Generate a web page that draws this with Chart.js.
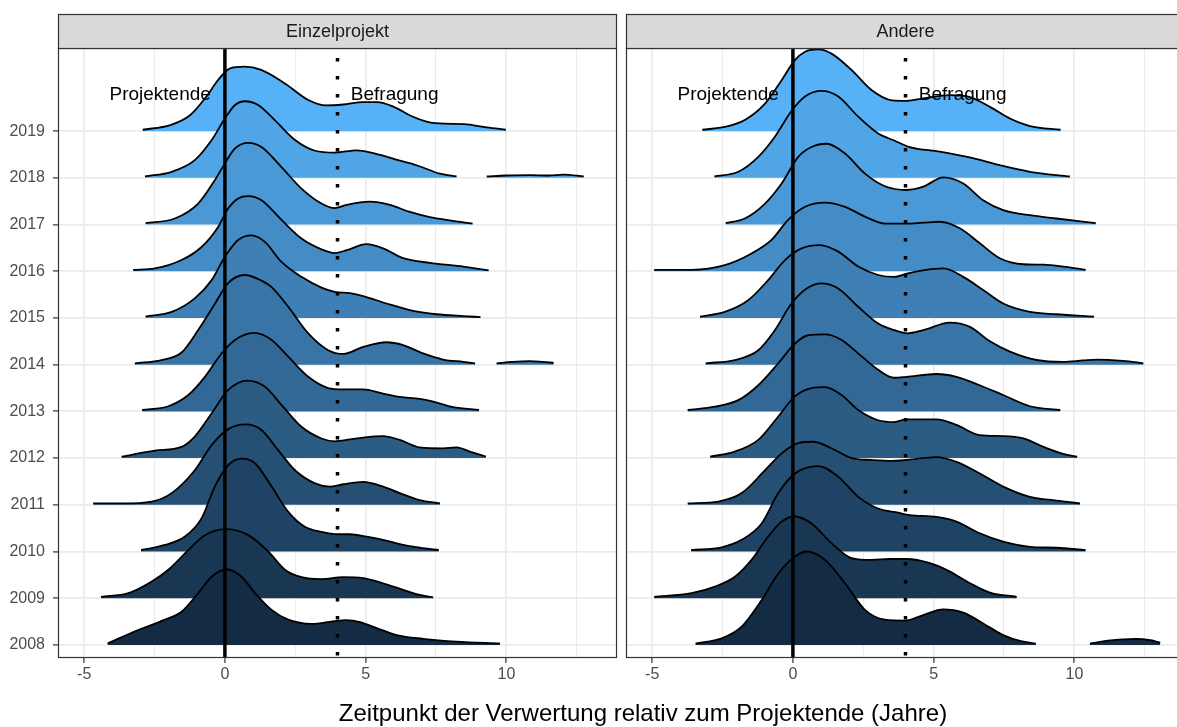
<!DOCTYPE html>
<html>
<head>
<meta charset="utf-8">
<script src="https://cdn.jsdelivr.net/npm/chart.js@4.4.1/dist/chart.umd.min.js"></script>
<style>
  html, body { margin: 0; padding: 0; background: #fff; overflow: hidden; }
  #wrap { position: relative; width: 1177px; height: 727px; overflow: hidden; }
  canvas { position: absolute; top: 0; }
  #xTitle { position: absolute; left: 243px; width: 800px; top: 699px; line-height: 28px; text-align: center;
            font-family: "Liberation Sans", Arial, sans-serif; font-size: 24px; color: #000; }
</style>
</head>
<body>
<div id="wrap">
  <canvas id="leftChart" width="620" height="727" style="left:0"></canvas>
  <canvas id="rightChart" width="565" height="727" style="left:620px"></canvas>
  <div id="xTitle">Zeitpunkt der Verwertung relativ zum Projektende (Jahre)</div>
</div>
<script>
// 축 설정
const years = [2008, 2009, 2010, 2011, 2012, 2013, 2014, 2015, 2016, 2017, 2018, 2019];
const xTicks = [-5, -2.5, 0, 2.5, 5, 7.5, 10, 12.5];
const xRange = [-5.93, 13.93];
const yRange = [2007.72, 2020.78];
const panelTitles = ['Einzelprojekt', 'Andere'];

// 기준선 (Projektende = 0, Befragung = 4)
const refLines = [0, 4];
const noteLabels = ['Projektende', 'Befragung'];
const noteX = [-2.3, 6.03];
const noteY = 2019.77;

// Einzelprojekt: [x, Dichte-Höhe]
const ez2008 = [[-4.17,0.03],[-3.08,0.32],[-2.13,0.54],[-1.54,0.71],[-0.95,1.11],[-0.47,1.46],[0.06,1.62],[0.59,1.46],[1.07,1.11],[1.66,0.75],[2.25,0.54],[3.08,0.45],[3.9,0.51],[4.3,0.53],[4.8,0.49],[5.39,0.36],[6.1,0.21],[7.04,0.13],[8.23,0.07],[9.77,0.03]];
const ez2009 = [[-4.4,0.03],[-3.43,0.11],[-2.6,0.36],[-2.01,0.61],[-1.3,1.03],[-0.71,1.35],[0.06,1.48],[0.83,1.35],[1.54,1.0],[2.13,0.61],[2.72,0.45],[3.43,0.41],[4.2,0.45],[4.91,0.43],[5.62,0.32],[6.33,0.18],[6.92,0.07],[7.4,0.02]];
const ez2010 = [[-2.98,0.03],[-2.13,0.14],[-1.42,0.32],[-0.83,0.71],[-0.36,1.39],[0.12,1.85],[0.59,1.99],[1.07,1.89],[1.66,1.39],[2.25,0.85],[2.84,0.53],[3.43,0.42],[4.0,0.37],[4.44,0.37],[5.03,0.32],[5.62,0.25],[6.33,0.14],[7.04,0.07],[7.6,0.03]];
const ez2011 = [[-4.68,0.03],[-3.67,0.03],[-2.6,0.07],[-1.89,0.25],[-1.07,0.74],[-0.47,1.28],[0.12,1.62],[0.73,1.72],[1.3,1.6],[1.89,1.17],[2.49,0.74],[3.2,0.46],[3.73,0.39],[4.2,0.44],[4.91,0.49],[5.62,0.39],[6.21,0.25],[6.92,0.1],[7.64,0.03]];
const ez2012 = [[-3.67,0.03],[-2.49,0.16],[-1.54,0.24],[-1.07,0.46],[-0.47,0.96],[0.12,1.46],[0.8,1.66],[1.42,1.53],[2.01,1.14],[2.72,0.67],[3.43,0.42],[3.9,0.36],[4.44,0.4],[4.91,0.44],[5.62,0.47],[6.21,0.39],[6.92,0.23],[7.75,0.21],[8.23,0.23],[8.7,0.14],[9.27,0.03]];
const ez2013 = [[-2.94,0.03],[-2.01,0.11],[-1.3,0.35],[-0.71,0.74],[-0.12,1.24],[0.36,1.53],[1.04,1.68],[1.66,1.53],[2.25,1.17],[2.96,0.74],[3.67,0.5],[4.2,0.47],[4.91,0.47],[5.62,0.38],[6.21,0.31],[6.92,0.27],[7.4,0.21],[8.11,0.09],[9.03,0.03]];
const ez2014 = [[-3.2,0.03],[-2.25,0.1],[-1.54,0.26],[-0.95,0.74],[-0.36,1.3],[0.12,1.75],[0.7,1.92],[1.3,1.8],[1.66,1.66],[2.25,1.24],[2.96,0.67],[3.67,0.31],[4.2,0.23],[4.91,0.38],[5.74,0.48],[6.33,0.42],[7.04,0.24],[7.75,0.11],[8.47,0.06],[8.89,0.03]];
const ez2014b = [[9.65,0.03],[10.2,0.06],[10.83,0.077],[11.3,0.06],[11.68,0.04]];
const ez2015 = [[-2.82,0.03],[-1.89,0.13],[-1.07,0.42],[-0.47,0.81],[0,1.31],[0.47,1.67],[0.95,1.77],[1.42,1.63],[2.01,1.2],[2.72,0.88],[3.43,0.65],[3.9,0.56],[4.44,0.53],[4.91,0.47],[5.74,0.31],[6.57,0.17],[7.52,0.08],[8.47,0.04],[9.08,0.02]];
const ez2016 = [[-3.26,0.03],[-2.49,0.06],[-1.54,0.24],[-0.83,0.52],[-0.24,0.95],[0.12,1.35],[0.47,1.56],[0.83,1.61],[1.3,1.52],[2.01,1.1],[2.72,0.7],[3.43,0.47],[3.9,0.39],[4.32,0.45],[5.03,0.58],[5.62,0.49],[6.33,0.28],[7.28,0.18],[8.47,0.1],[9.37,0.02]];
const ez2017 = [[-2.82,0.03],[-1.78,0.13],[-0.95,0.45],[-0.36,0.95],[0,1.31],[0.36,1.63],[0.83,1.75],[1.3,1.66],[2.01,1.23],[2.72,0.77],[3.43,0.45],[3.9,0.35],[4.32,0.42],[5.15,0.49],[5.86,0.42],[6.57,0.27],[7.28,0.16],[7.99,0.09],[8.8,0.02]];
const ez2018 = [[-2.84,0.03],[-1.89,0.13],[-1.07,0.38],[-0.47,0.81],[0,1.27],[0.36,1.56],[0.71,1.64],[1.18,1.56],[1.78,1.23],[2.49,0.81],[3.2,0.58],[3.9,0.54],[4.68,0.59],[5.51,0.49],[6.15,0.38],[6.81,0.27],[7.64,0.09],[8.23,0.03]];
const ez2018b = [[9.3,0.03],[10.0,0.05],[10.83,0.06],[11.5,0.05],[12.02,0.07],[12.75,0.03]];
const ez2019 = [[-2.92,0.03],[-1.94,0.13],[-1.24,0.34],[-0.67,0.73],[-0.25,1.09],[0.17,1.34],[0.7,1.38],[1.29,1.31],[2.13,1.02],[2.98,0.66],[3.6,0.55],[4.2,0.57],[4.9,0.62],[5.4,0.62],[6.0,0.52],[6.6,0.33],[7.2,0.2],[7.8,0.16],[8.5,0.15],[9.3,0.08],[9.98,0.03]];

// Andere: [x, Dichte-Höhe]
const an2008 = [[-3.46,0.03],[-2.53,0.14],[-1.82,0.39],[-1.11,0.96],[-0.52,1.53],[0.07,1.89],[0.49,2.0],[1.14,1.82],[1.85,1.32],[2.56,0.75],[3.27,0.54],[3.98,0.52],[4.63,0.64],[5.34,0.76],[6.05,0.69],[6.76,0.46],[7.47,0.21],[8.1,0.08],[8.63,0.03]];
const an2008b = [[10.55,0.03],[11.2,0.09],[11.73,0.12],[12.2,0.13],[12.7,0.1],[13.05,0.05]];
const an2009 = [[-4.93,0.03],[-3.6,0.11],[-2.77,0.25],[-2.06,0.46],[-1.47,0.82],[-0.88,1.32],[-0.4,1.64],[0.07,1.75],[0.66,1.6],[1.37,1.18],[2.08,0.86],[2.79,0.82],[3.45,0.84],[4.04,0.84],[4.87,0.75],[5.58,0.57],[6.29,0.32],[7.0,0.12],[7.95,0.03]];
const an2010 = [[-3.62,0.03],[-2.53,0.09],[-1.82,0.25],[-1.11,0.6],[-0.52,1.25],[0.07,1.67],[0.9,1.83],[1.61,1.6],[2.32,1.17],[3.03,0.92],[3.74,0.83],[4.15,0.78],[5.1,0.74],[5.81,0.64],[6.64,0.39],[7.47,0.21],[8.42,0.1],[9.36,0.08],[10.4,0.03]];
const an2011 = [[-3.74,0.03],[-2.65,0.07],[-1.82,0.25],[-0.99,0.74],[-0.4,1.1],[0.19,1.32],[0.72,1.35],[1.37,1.21],[2.08,1.0],[2.79,0.96],[3.51,0.94],[4.04,0.96],[5.1,1.02],[5.81,0.92],[6.64,0.67],[7.47,0.39],[8.42,0.17],[9.36,0.09],[10.2,0.03]];
const an2012 = [[-2.94,0.03],[-2.06,0.14],[-1.23,0.39],[-0.52,0.89],[0.07,1.32],[0.66,1.5],[1.14,1.52],[1.73,1.35],[2.32,1.03],[3.03,0.81],[3.6,0.77],[4.04,0.83],[5.1,0.83],[5.81,0.71],[6.64,0.49],[7.47,0.47],[8.19,0.42],[8.9,0.24],[9.6,0.09],[10.1,0.03]];
const an2013 = [[-3.74,0.03],[-2.77,0.1],[-1.94,0.24],[-1.23,0.56],[-0.52,1.03],[0.07,1.45],[0.54,1.63],[1.14,1.65],[1.73,1.53],[2.32,1.24],[3.03,0.89],[3.6,0.72],[4.04,0.74],[5.1,0.8],[5.81,0.74],[6.64,0.56],[7.47,0.35],[8.42,0.11],[9.5,0.03]];
const an2014 = [[-3.1,0.03],[-2.06,0.1],[-1.23,0.31],[-0.64,0.74],[-0.05,1.31],[0.49,1.63],[1.02,1.74],[1.61,1.63],[2.32,1.24],[3.03,0.88],[3.6,0.74],[4.06,0.67],[4.63,0.74],[5.58,0.9],[6.29,0.81],[7.0,0.5],[7.71,0.28],[8.66,0.1],[9.6,0.06],[10.3,0.09],[10.79,0.11],[11.73,0.08],[12.45,0.03]];
const an2015 = [[-3.3,0.03],[-2.42,0.13],[-1.59,0.38],[-0.88,0.81],[-0.28,1.24],[0.31,1.49],[0.96,1.56],[1.61,1.42],[2.32,1.1],[3.03,0.92],[3.6,0.88],[4.04,0.95],[4.63,1.02],[5.34,1.06],[6.05,0.88],[6.76,0.6],[7.47,0.31],[8.42,0.13],[9.36,0.08],[10.7,0.03]];
const an2016 = [[-4.93,0.03],[-3.6,0.03],[-2.42,0.13],[-1.47,0.38],[-0.76,0.67],[-0.17,1.1],[0.43,1.38],[1.14,1.47],[1.85,1.38],[2.56,1.17],[3.27,1.02],[4.04,1.02],[4.63,1.04],[5.22,1.06],[5.93,0.92],[6.64,0.6],[7.35,0.28],[8.19,0.15],[8.9,0.14],[9.61,0.1],[10.4,0.03]];
const an2017 = [[-2.39,0.03],[-1.71,0.13],[-0.99,0.45],[-0.4,0.88],[0.19,1.45],[0.66,1.66],[1.2,1.73],[1.85,1.52],[2.56,1.09],[3.27,0.82],[4.04,0.74],[4.63,0.81],[5.34,1.01],[6.05,0.88],[6.76,0.52],[7.47,0.31],[8.42,0.2],[9.36,0.13],[10.76,0.03]];
const an2018 = [[-2.79,0.03],[-1.94,0.13],[-1.23,0.45],[-0.64,0.88],[-0.05,1.43],[0.43,1.74],[1.02,1.86],[1.61,1.74],[2.32,1.31],[3.03,0.95],[3.6,0.8],[4.15,0.66],[5.22,0.56],[6.4,0.42],[7.35,0.27],[8.42,0.13],[9.84,0.03]];
const an2019 = [[-3.22,0.03],[-2.42,0.09],[-1.71,0.24],[-0.99,0.59],[-0.4,1.09],[0.07,1.52],[0.43,1.7],[0.9,1.75],[1.37,1.66],[2.08,1.31],[2.79,0.88],[3.51,0.66],[4.06,0.65],[4.63,0.7],[5.58,0.77],[6.29,0.73],[7.0,0.52],[7.71,0.27],[8.42,0.11],[9.51,0.03]];

// 연도별 묶음 (같은 연도의 분리된 조각 포함)
const einzelRidges = [[ez2008], [ez2009], [ez2010], [ez2011], [ez2012], [ez2013], [ez2014, ez2014b],
                      [ez2015], [ez2016], [ez2017], [ez2018, ez2018b], [ez2019]];
const andereRidges = [[an2008, an2008b], [an2009], [an2010], [an2011], [an2012], [an2013], [an2014],
                      [an2015], [an2016], [an2017], [an2018], [an2019]];

// ggplot 기본 그라데이션 (#132B43 -> #56B1F7)
const lowCol = [19, 43, 67];
const highCol = [86, 177, 247];
function yearColor(year) {
  const t = (year - years[0]) / (years[years.length - 1] - years[0]);
  const c = lowCol.map((v, i) => Math.round(v + (highCol[i] - v) * t));
  return 'rgb(' + c.join(',') + ')';
}

const FONT = '"Liberation Sans", Arial, sans-serif';

function ridgeDataset(year, pts) {
  return {
    data: pts.map(p => ({ x: p[0], y: year + p[1] })),
    borderColor: '#000000',
    borderWidth: 1.8,
    backgroundColor: yearColor(year),
    fill: { value: year },
    pointRadius: 0,
    cubicInterpolationMode: 'monotone',
    order: year - 2006 // 2008이 맨 앞
  };
}

function refLineDataset(x, dotted) {
  return {
    data: [{ x: x, y: yRange[1] }, { x: x, y: yRange[0] }],
    borderColor: '#000000',
    borderWidth: 3.5,
    borderDash: dotted ? [3.5, 14.5] : [],
    borderDashOffset: dotted ? 8 : 0,
    borderCapStyle: 'butt',
    pointRadius: 0,
    fill: false,
    order: 0
  };
}

// 패널 테두리, 스트립, 주석 텍스트
const panelPlugin = {
  id: 'panel',
  afterDatasetsDraw(chart, args, opts) {
    const ctx = chart.ctx;
    const a = chart.chartArea;
    const sx = chart.scales.x, sy = chart.scales.y;
    ctx.save();
    ctx.font = '19px ' + FONT;
    ctx.fillStyle = '#000000';
    ctx.textAlign = 'center';
    ctx.textBaseline = 'middle';
    noteLabels.forEach((t, i) => {
      ctx.fillText(t, sx.getPixelForValue(noteX[i]), sy.getPixelForValue(noteY));
    });
    ctx.strokeStyle = '#333333';
    ctx.lineWidth = 1.2;
    ctx.strokeRect(a.left + 0.5, a.top + 0.5, a.width - 1, a.height - 1);
    ctx.fillStyle = '#D9D9D9';
    ctx.fillRect(a.left + 0.5, 14.5, a.width - 1, a.top - 14);
    ctx.strokeRect(a.left + 0.5, 14.5, a.width - 1, a.top - 14);
    ctx.fillStyle = '#1A1A1A';
    ctx.font = '18px ' + FONT;
    ctx.fillText(opts.title, (a.left + a.right) / 2, (14 + a.top) / 2 + 1);
    ctx.restore();
  }
};

function makeChart(canvasId, ridges, title, showY) {
  const datasets = [];
  ridges.forEach((pieces, i) => {
    pieces.forEach(pts => datasets.push(ridgeDataset(years[i], pts)));
  });
  datasets.push(refLineDataset(refLines[0], false));
  datasets.push(refLineDataset(refLines[1], true));

  const ctx = document.getElementById(canvasId).getContext('2d');
  return new Chart(ctx, {
    type: 'line',
    data: { datasets },
    plugins: [panelPlugin],
    options: {
      responsive: false,
      animation: false,
      events: [],
      layout: { padding: { top: 48, right: showY ? 3 : 0, left: showY ? 0 : 6, bottom: 0 } },
      plugins: {
        legend: { display: false },
        tooltip: { enabled: false },
        panel: { title: title }
      },
      scales: {
        x: {
          type: 'linear',
          min: xRange[0],
          max: xRange[1],
          afterBuildTicks: s => { s.ticks = xTicks.map(v => ({ value: v })); },
          afterFit: s => { s.height = 69; },
          border: { display: false },
          grid: {
            color: '#EBEBEB',
            lineWidth: c => (c.tick && c.tick.value % 5 === 0 ? 1.8 : 1.1),
            tickColor: c => (c.tick && c.tick.value % 5 === 0 ? '#333333' : 'rgba(0,0,0,0)'),
            tickLength: 5,
            tickWidth: 1.2
          },
          ticks: {
            autoSkip: false,
            maxRotation: 0,
            padding: 2,
            color: '#4D4D4D',
            font: { family: FONT, size: 16 },
            callback: v => (v % 5 === 0 ? String(v) : '')
          }
        },
        y: {
          type: 'linear',
          min: yRange[0],
          max: yRange[1],
          afterBuildTicks: s => { s.ticks = years.map(v => ({ value: v })); },
          afterFit: s => { s.width = showY ? 58 : 0; },
          border: { display: false },
          grid: {
            color: '#EBEBEB',
            lineWidth: 1.8,
            drawTicks: showY,
            tickColor: '#333333',
            tickLength: 5,
            tickWidth: 1.2
          },
          ticks: {
            display: showY,
            padding: 8,
            color: '#4D4D4D',
            font: { family: FONT, size: 16 },
            callback: v => String(v)
          }
        }
      }
    }
  });
}

makeChart('leftChart', einzelRidges, panelTitles[0], true);
makeChart('rightChart', andereRidges, panelTitles[1], false);
</script>
</body>
</html>
